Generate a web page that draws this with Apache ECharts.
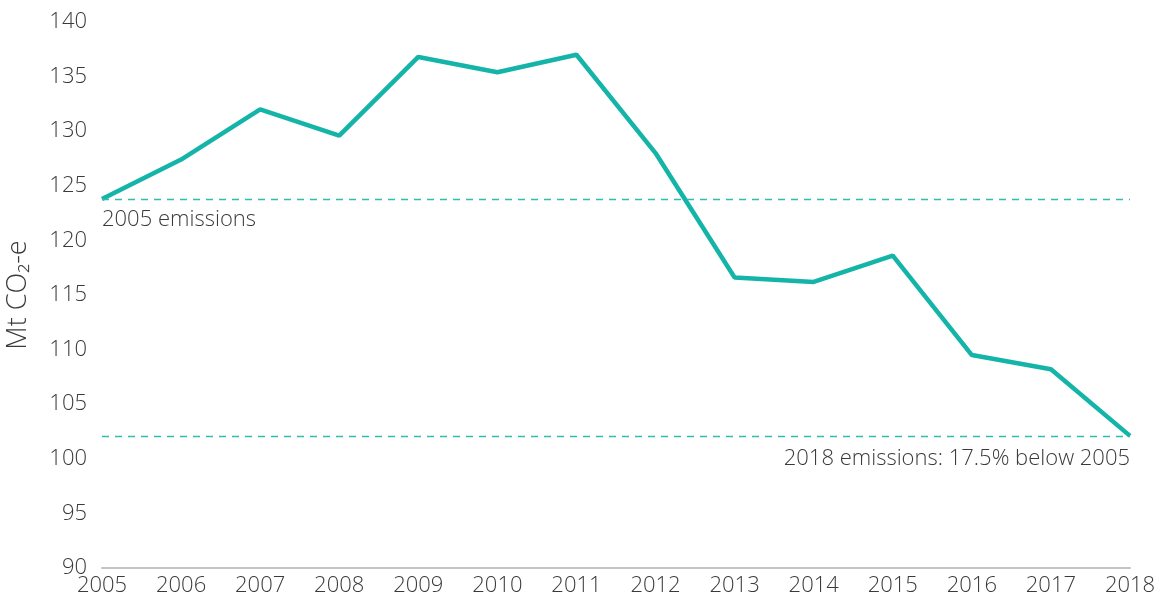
<!DOCTYPE html>
<html>
<head>
<meta charset="utf-8">
<script src="https://cdn.jsdelivr.net/npm/echarts@6/dist/echarts.min.js"></script>
<style>
  html, body { margin: 0; padding: 0; background: #fff; }
  #main { width: 1160px; height: 607px; }
</style>
</head>
<body>
<div id="main"></div>
<script>
var years = ["2005", "2006", "2007", "2008", "2009", "2010", "2011", "2012", "2013", "2014", "2015", "2016", "2017", "2018"];
var emissions = [123.8, 127.4, 132.0, 129.6, 136.8, 135.4, 137.0, 128.0, 116.6, 116.2, 118.6, 109.5, 108.2, 102.1];
var refLevels = [123.8, 102.1];
var refLabels = ["2005 emissions", "2018 emissions: 17.5% below 2005"];

var textColor = "#3a3a3a";
var font = "Open Sans";
var dashStyle = { color: "#30bcb1", type: [7, 6], width: 1.4 };

var myChart = echarts.init(document.getElementById("main"));

var option = {
  animation: false,
  grid: { left: 102, right: 30, top: 22, bottom: 39, outerBoundsMode: "none", containLabel: false },
  xAxis: {
    type: "category",
    data: years,
    boundaryGap: false,
    axisLine: { lineStyle: { color: "#c4c4c4", width: 2 } },
    axisTick: { show: false },
    axisLabel: { color: textColor, fontFamily: font, fontWeight: 300, fontSize: 22, margin: 7 }
  },
  yAxis: {
    type: "value",
    min: 90,
    max: 140,
    interval: 5,
    name: "Mt CO₂-e",
    nameLocation: "middle",
    nameGap: 70,
    nameTextStyle: { color: textColor, fontFamily: font, fontWeight: 300, fontSize: 27 },
    axisLine: { show: false },
    axisTick: { show: false },
    splitLine: { show: false },
    axisLabel: { color: textColor, fontFamily: font, fontWeight: 300, fontSize: 22, margin: 15 }
  },
  series: [
    {
      type: "line",
      data: emissions,
      symbol: "none",
      lineStyle: { color: "#14b5a8", width: 4.5 },
      markLine: {
        silent: true,
        symbol: "none",
        lineStyle: dashStyle,
        data: [
          {
            yAxis: refLevels[0],
            lineStyle: dashStyle,
            label: {
              position: "insideStartBottom",
              formatter: refLabels[0],
              color: textColor, fontFamily: font, fontWeight: 300, fontSize: 22, distance: [0, 10]
            }
          },
          {
            yAxis: refLevels[1],
            lineStyle: dashStyle,
            label: {
              position: "insideEndBottom",
              formatter: refLabels[1],
              color: textColor, fontFamily: font, fontWeight: 300, fontSize: 22, distance: [0, 12]
            }
          }
        ]
      }
    }
  ]
};

myChart.setOption(option);
</script>
</body>
</html>
